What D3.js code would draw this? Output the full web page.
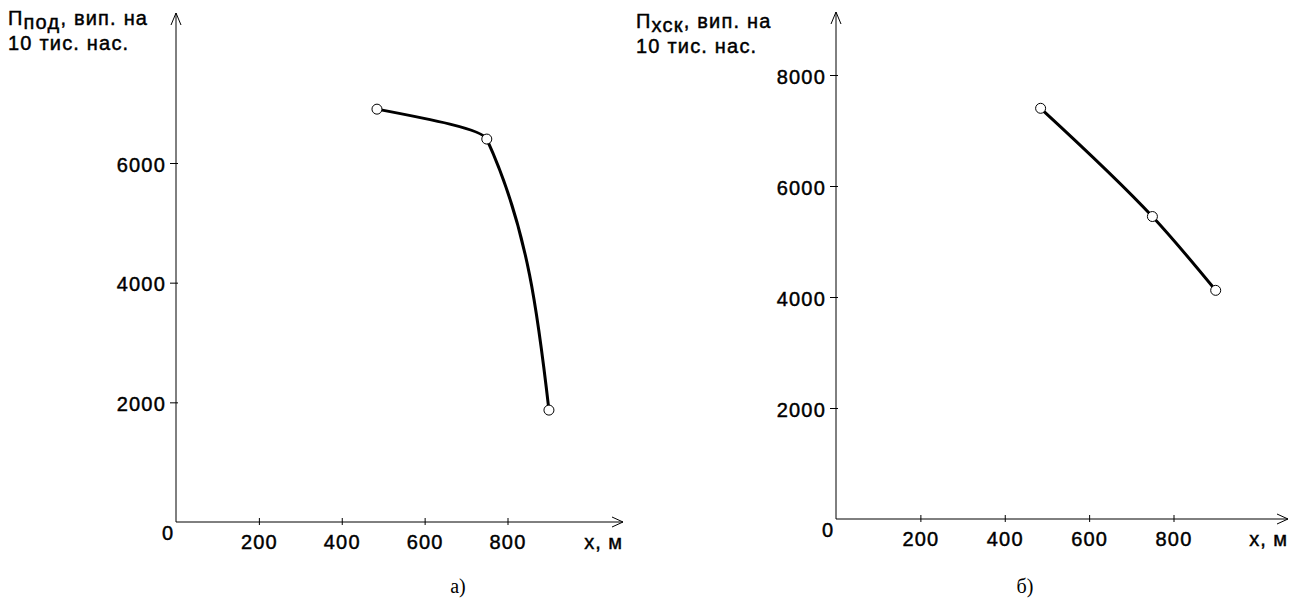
<!DOCTYPE html>
<html>
<head>
<meta charset="utf-8">
<script src="https://cdn.jsdelivr.net/npm/d3@7"></script>
<style>
body { margin: 0; background: #fff; }
svg text { font-family: "Liberation Sans", Arial, sans-serif; }
svg .lbl { stroke: black; stroke-width: 0.45px; }
</style>
</head>
<body>
<script>
// data
var distX = [485, 750, 900];
var podValues = [6900, 6400, 1870];
var xskValues = [7400, 5450, 4120];
var xTicks = [200, 400, 600, 800];
var podTicks = [2000, 4000, 6000];
var xskTicks = [2000, 4000, 6000, 8000];

var svg = d3.select('body').append('svg').attr('width', 1298).attr('height', 599);

function arrowPath(x, y, dir) {
    // open V arrowhead
    if (dir === 'up') return 'M' + (x - 5) + ',' + (y + 12) + 'L' + x + ',' + y + 'L' + (x + 5) + ',' + (y + 12);
    return 'M' + (x - 11) + ',' + (y - 5) + 'L' + x + ',' + y + 'L' + (x - 11) + ',' + (y + 5);
}

function panel(p) {
    var g = svg.append('g');
    var x = d3.scaleLinear().domain([0, 800]).range([p.ox, p.x800]);
    var y = d3.scaleLinear().domain([0, p.ymax]).range([p.oy, p.ytop]);

    // axes lines with arrows
    g.append('line').attr('x1', p.ox).attr('y1', p.oy).attr('x2', p.xEnd).attr('y2', p.oy).attr('stroke', 'black');
    g.append('line').attr('x1', p.ox).attr('y1', p.oy).attr('x2', p.ox).attr('y2', p.yEnd).attr('stroke', 'black');
    g.append('path').attr('d', arrowPath(p.xEnd, p.oy, 'right')).attr('fill', 'none').attr('stroke', 'black');
    g.append('path').attr('d', arrowPath(p.ox, p.yEnd, 'up')).attr('fill', 'none').attr('stroke', 'black');

    var xa = g.append('g').attr('transform', 'translate(0,' + p.oy + ')')
        .call(d3.axisBottom(x).tickValues(xTicks).tickFormat(d3.format('d')).tickSize(3).tickPadding(10));
    xa.select('.domain').remove();
    xa.selectAll('.tick line').attr('y1', -4).attr('y2', 3);
    xa.selectAll('.tick text').attr('class', 'lbl').attr('font-size', 20).attr('font-family', null).attr('letter-spacing', 1.2);

    var ya = g.append('g').attr('transform', 'translate(' + p.ox + ',0)')
        .call(d3.axisLeft(y).tickValues(p.ticks).tickFormat(d3.format('d')).tickSize(6).tickPadding(4));
    ya.select('.domain').remove();
    ya.selectAll('.tick line').attr('x1', 2).attr('x2', -6);
    ya.selectAll('.tick text').attr('class', 'lbl').attr('font-size', 20).attr('font-family', null).attr('letter-spacing', 1.2)
        .attr('dy', '0.4em');

    g.append('text').attr('class', 'lbl').attr('x', p.ox - 3).attr('y', p.oy + 18).attr('text-anchor', 'end')
        .attr('font-size', 20).text('0');
    g.append('text').attr('class', 'lbl').attr('x', p.xEnd).attr('y', p.oy + 27).attr('text-anchor', 'end')
        .attr('font-size', 20).attr('letter-spacing', 1).text('x, м');

    // y label
    var t = g.append('text').attr('class', 'lbl').attr('x', p.lx).attr('y', p.ly).attr('font-size', 20).attr('letter-spacing', 1.2);
    t.append('tspan').text('П');
    t.append('tspan').attr('dy', 4).text(p.sub);
    t.append('tspan').attr('dy', -4).text(', вип. на');
    g.append('text').attr('class', 'lbl').attr('x', p.lx).attr('y', p.ly + 25).attr('font-size', 20).attr('letter-spacing', 1.2)
        .text('10 тис. нас.');

    // curve
    var pts = distX.map(function (d, i) { return [d, p.values[i]]; });
    var line = d3.line().x(function (d) { return x(d[0]); }).y(function (d) { return y(d[1]); })
        .curve(d3.curveMonotoneY);
    g.append('path').datum(pts).attr('d', line).attr('fill', 'none').attr('stroke', 'black').attr('stroke-width', 3);
    g.selectAll('circle').data(pts).enter().append('circle')
        .attr('cx', function (d) { return x(d[0]); }).attr('cy', function (d) { return y(d[1]); })
        .attr('r', 5).attr('fill', 'white').attr('stroke', 'black');

    g.append('text').attr('x', p.cap).attr('y', 593).attr('text-anchor', 'middle')
        .style('font-family', '"Liberation Serif", "Times New Roman", serif').attr('font-size', 20).text(p.caption);
}

panel({ ox: 176, oy: 522, x800: 507.5, xEnd: 623, ymax: 6000, ytop: 163, yEnd: 13, ticks: podTicks,
    values: podValues, sub: 'под', lx: 8, ly: 25, cap: 458, caption: 'а)' });
panel({ ox: 836, oy: 519, x800: 1173.5, xEnd: 1288, ymax: 8000, ytop: 75, yEnd: 12, ticks: xskTicks,
    values: xskValues, sub: 'хск', lx: 636, ly: 28, cap: 1025, caption: 'б)' });
</script>
</body>
</html>
